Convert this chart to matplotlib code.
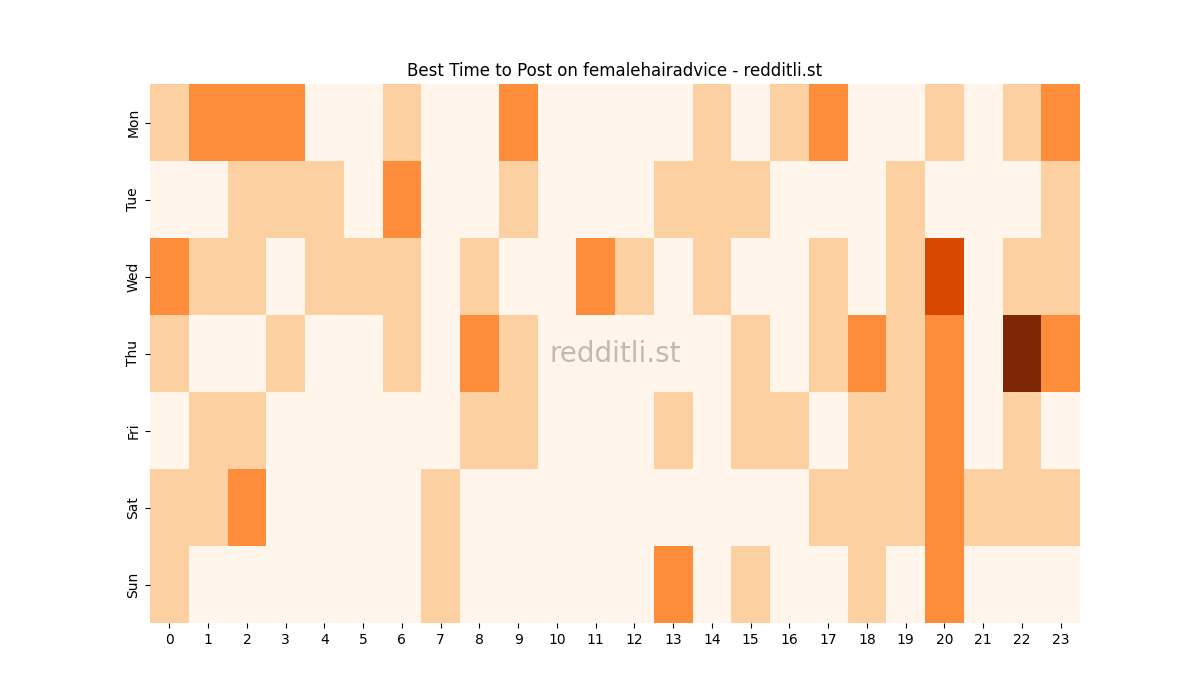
import matplotlib
matplotlib.use("Agg")
import matplotlib.pyplot as plt
import seaborn as sns
import numpy as np

days = ["Mon", "Tue", "Wed", "Thu", "Fri", "Sat", "Sun"]
hours = list(range(24))
mon = [1,2,2,2,0,0,1,0,0,2,0,0,0,0,1,0,1,2,0,0,1,0,1,2]
tue = [0,0,1,1,1,0,2,0,0,1,0,0,0,1,1,1,0,0,0,1,0,0,0,1]
wed = [2,1,1,0,1,1,1,0,1,0,0,2,1,0,1,0,0,1,0,1,3,0,1,1]
thu = [1,0,0,1,0,0,1,0,2,1,0,0,0,0,0,1,0,1,2,1,2,0,4,2]
fri = [0,1,1,0,0,0,0,0,1,1,0,0,0,1,0,1,1,0,1,1,2,0,1,0]
sat = [1,1,2,0,0,0,0,1,0,0,0,0,0,0,0,0,0,1,1,1,2,1,1,1]
sun = [1,0,0,0,0,0,0,1,0,0,0,0,0,2,0,1,0,0,1,0,2,0,0,0]

data = np.array([mon, tue, wed, thu, fri, sat, sun])

fig, ax = plt.subplots(figsize=(12, 7), dpi=100)
sns.heatmap(data, cmap="Oranges", vmin=0, vmax=4, cbar=False, ax=ax,
            xticklabels=hours, yticklabels=days)
ax.set_title("Best Time to Post on femalehairadvice - redditli.st")
ax.text(0.5, 0.5, "redditli.st", transform=ax.transAxes, ha="center", va="center",
        fontsize=20, color="gray", alpha=0.5)
plt.setp(ax.get_yticklabels(), rotation=90, va="center")
plt.setp(ax.get_xticklabels(), rotation=0)
fig.savefig("out.png")
